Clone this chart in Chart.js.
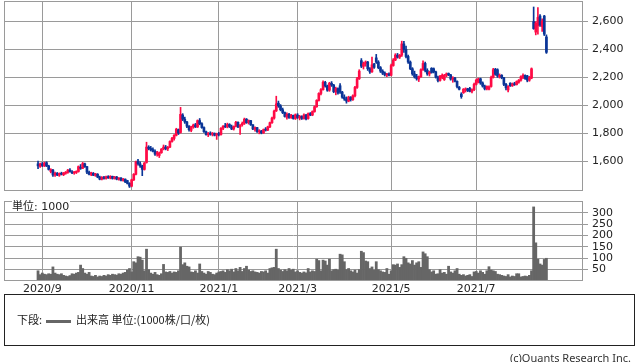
<!DOCTYPE html>
<html lang="ja">
<head>
<meta charset="utf-8">
<script src="https://cdn.jsdelivr.net/npm/chart.js@4.4.1/dist/chart.umd.min.js"></script>
<style>
  body { margin: 0; background: #fff; }
  #wrap { position: relative; width: 638px; height: 362px; overflow: hidden; font-family: "DejaVu Sans", "Noto Sans CJK JP", sans-serif; }
  canvas { position: absolute; left: 0; }
  #priceChart { top: 0; }
  #volumeChart { top: 200px; }
  .unit { position: absolute; left: 12px; top: 201px; font-size: 11px; line-height: 11px; background: #fff; color: #222; padding-right: 1px; }
  .legend-box { position: absolute; left: 4px; top: 294px; width: 631px; height: 52px; box-sizing: border-box; border: 1px solid #222; font-family: "Noto Sans CJK JP", sans-serif; font-size: 11px; color: #222; }
  .legend-box .row { position: absolute; left: 12px; top: 17px; line-height: 14px; white-space: nowrap; }
  .legend-box .swatch { display: inline-block; width: 25px; height: 3px; background: #666; vertical-align: middle; margin: 0 5px 0 4px; }
  .copy { position: absolute; right: 7px; top: 350px; font-family: "Noto Sans", sans-serif; font-size: 11px; color: #333; }
</style>
</head>
<body>
<div id="wrap">
  <canvas id="priceChart" width="638" height="191"></canvas>
  <canvas id="volumeChart" width="638" height="100"></canvas>
  <div class="unit">単位: 1000</div>
  <div class="legend-box"><div class="row">下段:<span class="swatch"></span>出来高 単位:(1000株/口/枚)</div></div>
  <div class="copy">(c)Quants Research Inc.</div>
</div>
<script>
  // Daily candles 2020/8/28 - 2021/8/20 (index = trading day)
  const opens = [
    1580,1562,1580,1565,1588,1565,1525,1535,1500,1512,1498,1510,1502,1512,1518,1535,1522,1515,1518,1525,
    1555,1548,1580,1560,1518,1505,1512,1498,1505,1485,1470,1482,1475,1488,1478,1490,1475,1485,1470,1478,
    1462,1470,1460,1440,1420,1465,1505,1600,1580,1565,1540,1590,1700,1690,1682,1670,1650,1640,1660,1688,
    1700,1688,1700,1740,1762,1785,1825,1805,1930,1900,1880,1850,1820,1845,1860,1845,1890,1868,1840,1810,
    1790,1800,1792,1798,1785,1795,1790,1835,1852,1845,1862,1845,1830,1850,1878,1845,1860,1870,1900,1878,
    1890,1860,1828,1840,1810,1815,1802,1825,1822,1845,1875,1908,1960,2015,1995,1968,1948,1915,1935,1912,
    1928,1905,1930,1910,1920,1905,1930,1905,1940,1930,1955,1990,2035,2085,2112,2165,2138,2108,2158,2145,
    2098,2120,2140,2095,2058,2045,2030,2058,2040,2068,2128,2190,2320,2280,2300,2310,2262,2240,2295,2340,
    2310,2270,2245,2232,2218,2225,2215,2285,2325,2360,2345,2360,2440,2400,2350,2310,2262,2225,2205,2188,
    2205,2255,2300,2250,2225,2265,2262,2240,2202,2178,2200,2185,2215,2228,2218,2185,2195,2172,2130,2080,
    2090,2110,2118,2120,2100,2112,2150,2165,2190,2160,2138,2118,2115,2135,2200,2258,2255,2205,2215,2198,
    2150,2110,2158,2140,2152,2148,2165,2180,2200,2215,2210,2180,2195,2600,2525,2570,2640,2565,2640,2490
  ];
  const highs = [
    1600,1585,1590,1592,1595,1570,1545,1540,1520,1518,1515,1520,1518,1525,1540,1545,1532,1525,1530,1565,
    1575,1590,1585,1562,1528,1520,1518,1512,1510,1492,1488,1490,1492,1495,1495,1492,1490,1490,1482,1482,
    1475,1472,1462,1445,1470,1510,1600,1612,1595,1570,1590,1735,1710,1705,1695,1680,1670,1665,1690,1715,
    1712,1705,1745,1770,1790,1835,1830,1985,1940,1915,1885,1855,1850,1865,1870,1895,1905,1875,1845,1815,
    1805,1810,1805,1802,1800,1805,1840,1855,1870,1872,1868,1858,1852,1885,1882,1862,1880,1908,1905,1895,
    1892,1862,1845,1842,1825,1820,1830,1840,1850,1880,1915,1965,2065,2030,2005,1980,1952,1945,1942,1935,
    1930,1938,1940,1928,1925,1938,1935,1945,1948,1960,1995,2040,2090,2120,2175,2172,2145,2165,2170,2150,
    2130,2125,2155,2100,2075,2060,2065,2062,2075,2135,2200,2255,2335,2310,2318,2315,2270,2345,2300,2365,
    2320,2278,2255,2240,2230,2232,2295,2335,2370,2372,2365,2460,2458,2425,2360,2318,2270,2245,2222,2210,
    2262,2318,2310,2262,2245,2270,2268,2245,2210,2215,2225,2222,2232,2232,2222,2205,2200,2175,2135,2090,
    2120,2125,2122,2128,2118,2160,2188,2195,2195,2168,2145,2140,2140,2210,2265,2265,2262,2225,2220,2200,
    2158,2142,2162,2160,2165,2175,2185,2212,2225,2218,2215,2208,2268,2705,2600,2700,2650,2620,2645,2505
  ];
  const lows = [
    1545,1555,1560,1560,1560,1535,1515,1490,1490,1495,1490,1500,1495,1505,1512,1520,1510,1505,1510,1520,
    1540,1545,1555,1510,1500,1495,1495,1490,1480,1465,1465,1470,1470,1475,1472,1470,1470,1465,1462,1458,
    1455,1445,1435,1410,1415,1460,1500,1570,1555,1495,1535,1585,1680,1672,1665,1640,1635,1625,1655,1680,
    1680,1675,1695,1735,1750,1780,1790,1800,1890,1870,1840,1815,1810,1835,1840,1840,1860,1835,1805,1785,
    1775,1785,1780,1780,1755,1780,1785,1825,1840,1838,1840,1825,1822,1845,1840,1790,1850,1862,1870,1865,
    1855,1825,1815,1805,1795,1795,1798,1815,1818,1840,1870,1900,1955,1985,1960,1940,1915,1900,1905,1905,
    1900,1898,1905,1895,1898,1900,1895,1900,1925,1925,1950,1985,2030,2075,2108,2130,2100,2100,2135,2090,
    2075,2080,2085,2050,2035,2015,2025,2030,2035,2060,2120,2185,2270,2260,2280,2250,2228,2235,2265,2300,
    2262,2235,2220,2210,2205,2210,2210,2280,2320,2338,2335,2350,2380,2340,2300,2255,2215,2195,2180,2170,
    2200,2250,2240,2215,2210,2230,2232,2195,2168,2172,2190,2178,2205,2212,2180,2165,2168,2125,2110,2050,
    2085,2095,2098,2095,2088,2105,2145,2160,2150,2130,2110,2110,2110,2130,2195,2215,2200,2195,2190,2140,
    2110,2095,2135,2135,2142,2145,2158,2172,2190,2185,2168,2172,2190,2545,2505,2510,2565,2530,2500,2372
  ];
  const closes = [
    1565,1578,1568,1585,1565,1540,1538,1500,1512,1500,1510,1505,1515,1520,1535,1525,1515,1520,1525,1560,
    1548,1582,1560,1520,1505,1515,1498,1508,1485,1470,1482,1475,1488,1480,1490,1475,1485,1470,1478,1462,
    1470,1450,1440,1420,1465,1505,1595,1580,1565,1540,1585,1700,1690,1680,1670,1650,1660,1658,1685,1700,
    1688,1698,1740,1762,1785,1828,1800,1935,1900,1880,1850,1825,1845,1858,1845,1890,1868,1840,1810,1790,
    1800,1792,1800,1785,1795,1790,1835,1850,1845,1862,1848,1830,1848,1878,1845,1858,1870,1900,1875,1890,
    1860,1830,1840,1810,1815,1802,1825,1822,1845,1875,1908,1958,2010,1995,1968,1948,1920,1935,1912,1928,
    1905,1932,1912,1920,1905,1930,1902,1940,1930,1955,1990,2035,2085,2112,2165,2138,2108,2158,2145,2098,
    2120,2088,2095,2058,2045,2030,2058,2040,2068,2128,2190,2245,2280,2300,2310,2262,2240,2290,2272,2310,
    2270,2245,2230,2218,2225,2215,2285,2325,2360,2345,2358,2440,2400,2350,2310,2262,2225,2205,2190,2205,
    2255,2300,2250,2225,2238,2235,2240,2202,2178,2208,2215,2215,2225,2218,2188,2195,2172,2135,2115,2062,
    2115,2118,2105,2100,2112,2150,2180,2190,2160,2138,2118,2135,2132,2200,2255,2222,2210,2215,2198,2150,
    2125,2135,2140,2152,2148,2170,2180,2205,2215,2192,2180,2200,2262,2550,2590,2630,2575,2605,2510,2380
  ];
  // Volume, unit 1000 shares
  const volumes = [
    45,28,35,30,28,32,30,62,35,30,28,32,25,22,20,24,32,30,35,38,
    70,55,35,30,38,22,20,25,18,22,20,25,22,28,25,30,28,26,32,30,
    35,38,48,55,40,85,80,107,105,92,45,140,50,35,30,38,28,25,32,73,
    40,38,42,35,40,38,45,149,72,80,65,62,40,38,45,35,75,42,35,30,
    42,38,30,28,35,40,42,45,38,50,45,52,40,55,45,60,42,55,65,48,
    42,45,40,38,35,42,40,45,35,55,58,60,140,55,48,42,50,45,55,48,
    52,40,45,38,35,40,36,55,40,45,42,96,90,45,92,88,70,96,45,50,
    52,48,118,115,85,50,55,45,40,48,35,50,131,125,88,85,55,62,48,85,
    50,45,40,38,55,30,45,72,70,75,60,72,107,100,80,75,90,70,80,85,
    60,128,120,107,50,40,45,30,32,50,35,38,30,65,40,35,45,55,30,25,
    28,22,25,28,20,40,42,35,45,38,30,45,63,48,45,42,30,28,25,22,
    20,28,18,22,20,32,32,18,20,22,20,25,45,326,168,96,75,70,95,100
  ];

  // Month grid lines (index of first trading day) and their labels
  const monthIdx = [2, 44, 85, 122, 166, 206];
  const monthLabels = ['2020/9', '2020/11', '2021/1', '2021/3', '2021/5', '2021/7'];
  const priceTicks = [1600, 1800, 2000, 2200, 2400, 2600];
  const volumeTicks = [50, 100, 150, 200, 250, 300];

  const upColor = '#ff0a45';
  const downColor = '#0a3597';
  const gridColor = '#9a9a9a';
  const textColor = '#222';
  const tickFont = { family: 'DejaVu Sans', size: 11 };

  const candleColor = ctx => closes[ctx.dataIndex] >= opens[ctx.dataIndex] ? upColor : downColor;

  // Grey frame around the plot area
  const framePlugin = {
    id: 'frame',
    afterDraw(chart) {
      const { ctx, chartArea: a } = chart;
      ctx.save();
      ctx.strokeStyle = gridColor;
      ctx.lineWidth = 1;
      ctx.strokeRect(a.left + 0.5, a.top + 0.5, a.right - a.left - 1, a.bottom - a.top - 1);
      ctx.restore();
    }
  };

  // No automatic label padding: the plot area is set by layout.padding only
  const noPad = scale => {
    scale.paddingTop = 0;
    scale.paddingBottom = 0;
    scale.paddingLeft = 0;
    scale.paddingRight = 0;
  };

  const xRange = { min: -16, max: 256.2 };

  // Price chart (candles built from two floating bar sets)
  const priceCtx = document.getElementById('priceChart').getContext('2d');
  const priceChart = new Chart(priceCtx, {
    type: 'bar',
    data: {
      datasets: [
        {
          label: 'body',
          data: opens.map((o, i) => ({ x: i, y: [o, closes[i]] })),
          backgroundColor: candleColor,
          barThickness: 2,
          minBarLength: 1,
          grouped: false
        },
        {
          label: 'wick',
          data: lows.map((l, i) => ({ x: i, y: [l, highs[i]] })),
          backgroundColor: candleColor,
          barThickness: 1,
          grouped: false
        }
      ]
    },
    options: {
      responsive: false,
      animation: false,
      layout: { autoPadding: false, padding: { left: 4, top: 1, right: 0, bottom: 0 } },
      plugins: { legend: { display: false }, tooltip: { enabled: false } },
      scales: {
        x: {
          type: 'linear',
          offset: false,
          min: xRange.min,
          max: xRange.max,
          afterBuildTicks: scale => { scale.ticks = monthIdx.map(v => ({ value: v })); },
          afterFit: scale => { scale.height = 0; noPad(scale); },
          ticks: { display: false },
          grid: { color: gridColor, drawTicks: false, offset: false },
          border: { display: false }
        },
        y: {
          position: 'right',
          min: 1385,
          max: 2748,
          afterBuildTicks: scale => { scale.ticks = priceTicks.map(v => ({ value: v })); },
          afterFit: scale => { scale.width = 55; noPad(scale); },
          ticks: { color: textColor, font: tickFont, padding: 4, autoSkip: false },
          grid: { color: gridColor, tickLength: 5 },
          border: { display: false }
        }
      }
    },
    plugins: [framePlugin]
  });

  // Volume chart
  const volumeCtx = document.getElementById('volumeChart').getContext('2d');
  const volumeChart = new Chart(volumeCtx, {
    type: 'bar',
    data: {
      datasets: [{
        label: '出来高',
        data: volumes.map((v, i) => ({ x: i, y: v })),
        backgroundColor: '#666666',
        barPercentage: 1,
        categoryPercentage: 1
      }]
    },
    options: {
      responsive: false,
      animation: false,
      layout: { autoPadding: false, padding: { left: 4, top: 1, right: 0, bottom: 0 } },
      plugins: { legend: { display: false }, tooltip: { enabled: false } },
      scales: {
        x: {
          type: 'linear',
          offset: false,
          min: xRange.min,
          max: xRange.max,
          afterBuildTicks: scale => { scale.ticks = monthIdx.map(v => ({ value: v })); },
          afterFit: scale => { scale.height = 19; noPad(scale); },
          ticks: {
            color: textColor,
            font: tickFont,
            padding: 2,
            maxRotation: 0,
            autoSkip: false,
            callback: value => monthLabels[monthIdx.indexOf(value)]
          },
          grid: { color: gridColor, drawTicks: false, offset: false },
          border: { display: false }
        },
        y: {
          position: 'right',
          min: 0,
          max: 352,
          afterBuildTicks: scale => { scale.ticks = volumeTicks.map(v => ({ value: v })); },
          afterFit: scale => { scale.width = 55; noPad(scale); },
          ticks: { color: textColor, font: tickFont, padding: 4, autoSkip: false },
          grid: { color: gridColor, tickLength: 5 },
          border: { display: false }
        }
      }
    },
    plugins: [framePlugin]
  });
</script>
</body>
</html>
